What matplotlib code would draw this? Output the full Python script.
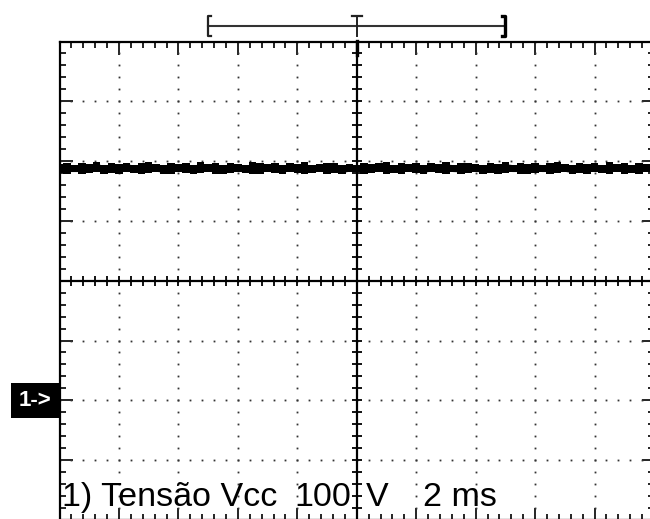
import numpy as np
import matplotlib
matplotlib.use("Agg")
import matplotlib.pyplot as plt
from matplotlib import transforms
from matplotlib.patches import Rectangle

# channel 1: DC bus voltage, 2 ms/div, 100 V/div, ground two divisions below centre
time_ms = [i * 0.25 for i in range(81)]
trace_hi = [395, 397, 394, 396, 395, 398, 394, 396, 395, 397,
            394, 396, 398, 395, 394, 397, 395, 396, 394, 398,
            395, 396, 394, 397, 395, 394, 398, 396, 395, 397,
            394, 396, 395, 398, 394, 395, 397, 396, 394, 395,
            393, 397, 395, 396, 398, 394, 396, 395, 397, 394,
            396, 395, 398, 394, 396, 397, 395, 394, 396, 395,
            398, 394, 396, 395, 397, 394, 396, 398, 395, 394,
            397, 395, 396, 394, 398, 395, 396, 394, 397, 395, 396]
trace_lo = [380, 378, 381, 379, 380, 381, 378, 380, 379, 381,
            380, 378, 380, 381, 379, 378, 381, 380, 379, 380,
            381, 379, 378, 380, 381, 380, 379, 378, 381, 380,
            379, 381, 380, 378, 380, 381, 379, 380, 378, 381,
            382, 379, 380, 381, 378, 380, 379, 381, 380, 378,
            381, 380, 379, 381, 378, 380, 381, 379, 380, 378,
            380, 381, 379, 378, 380, 381, 379, 380, 381, 378,
            380, 379, 381, 380, 378, 381, 379, 380, 378, 381, 380]

volts_per_div = 100
ms_per_div = 2
label_left = "1) Tensão Vcc"
label_scale = "100"
label_unit = "V"
label_time = "2 ms"
channel_tag = "1->"

W, H = 650, 519
fig = plt.figure(figsize=(W / 100, H / 100), dpi=100)
fig.patch.set_facecolor("white")

left_px, top_px = 59.5, 41.5
div_w, div_h = 59.45, 59.8
ax = fig.add_axes([left_px / W, 1 - (top_px + 8 * div_h) / H,
                   10 * div_w / W, 8 * div_h / H])
ax.set_xlim(0, 10 * ms_per_div)
ax.set_ylim(-2 * volts_per_div, 6 * volts_per_div)
ax.set_facecolor("white")

for s in ax.spines.values():
    s.set_linewidth(1.6)
    s.set_color("black")

# border graticule ticks
ax.set_xticks(np.arange(0, 20.1, ms_per_div))
ax.set_xticks(np.arange(0, 20.1, ms_per_div / 5), minor=True)
ax.set_yticks(np.arange(-200, 601, volts_per_div))
ax.set_yticks(np.arange(-200, 601, volts_per_div / 5), minor=True)
ax.tick_params(which="both", direction="in", top=True, right=True,
               labelbottom=False, labelleft=False, width=1.2, color="black")
ax.tick_params(which="major", length=9)
ax.tick_params(which="minor", length=4.5)

# dotted graticule
dot_kw = dict(ls="none", marker="s", ms=1.3, mew=0, color="#333333")
ys_dots = np.arange(-200, 601, volts_per_div / 5)
for xd in np.arange(ms_per_div, 20, ms_per_div):
    if abs(xd - 10) < 1e-6:
        continue
    ax.plot(np.full_like(ys_dots, xd), ys_dots, **dot_kw)
xs_dots = np.arange(0, 20.01, ms_per_div / 5)
for yd in np.arange(-100, 600, volts_per_div):
    if abs(yd - 200) < 1e-6:
        continue
    ax.plot(xs_dots, np.full_like(xs_dots, yd), **dot_kw)

# centre cross with its own ticks
ax.axvline(10, color="black", lw=1.6)
ax.axhline(200, color="black", lw=1.6)
ax.plot(xs_dots, np.full_like(xs_dots, 200), ls="none", marker="|",
        ms=6.5, mew=1.3, color="black")
ax.plot(np.full_like(ys_dots, 10), ys_dots, ls="none", marker="_",
        ms=6.5, mew=1.3, color="black")

# trace: noisy envelope plus solid core
ax.fill_between(time_ms, trace_lo, trace_hi, step="mid", color="black",
                lw=0, zorder=5)
core = [(h + l) / 2 for h, l in zip(trace_hi, trace_lo)]
ax.plot(time_ms, core, color="black", lw=5, zorder=6,
        solid_capstyle="butt")

# time-base bracket above the screen
def fy(px):
    return 1 - px / H

tb = transforms.blended_transform_factory(ax.transData, fig.transFigure)
x0, xc, x1 = 2.5 * ms_per_div, 5 * ms_per_div, 7.5 * ms_per_div
serif = 0.1
y_bar, y_top, y_bot = fy(25.5), fy(15.5), fy(36)
ax.plot([x0, x1], [y_bar, y_bar], transform=tb, color="#333333", lw=1.5,
        clip_on=False)
ax.plot([x0 + serif, x0, x0, x0 + serif], [y_top, y_top, y_bot, y_bot],
        transform=tb, color="#222222", lw=1.6, clip_on=False)
ax.plot([x1 - serif, x1, x1, x1 - serif], [y_top, y_top, y_bot, y_bot],
        transform=tb, color="black", lw=2.4, clip_on=False)
ax.plot([xc - 0.17, xc + 0.17], [y_top, y_top], transform=tb,
        color="#222222", lw=1.6, clip_on=False)
ax.plot([xc, xc], [y_top, y_bot], transform=tb, color="#222222", lw=1.4,
        clip_on=False)
# trigger marker on top border
ax.plot([xc, xc], [fy(41), fy(55)], transform=tb, color="black", lw=2.4,
        clip_on=False)

# channel ground marker
gb = transforms.blended_transform_factory(fig.transFigure, ax.transData)
fig.add_artist(Rectangle((11 / W, -29), 48 / W, 58, transform=gb,
                         facecolor="black", edgecolor="none"))
fig.text(35 / W, 0, channel_tag, transform=gb, color="white",
         fontsize=16, family="Liberation Sans", fontweight="bold",
         ha="center", va="center")

# readout line
txt_kw = dict(fontsize=24.5, family="Liberation Sans", color="black",
              va="baseline")
fig.text(62 / W, fy(506), label_left, ha="left", **txt_kw)
fig.text(351 / W, fy(506), label_scale, ha="right", **txt_kw)
fig.text(366 / W, fy(506), label_unit, ha="left", **txt_kw)
fig.text(423 / W, fy(506), label_time, ha="left", **txt_kw)

fig.savefig("out.png", dpi=100, facecolor="white")
